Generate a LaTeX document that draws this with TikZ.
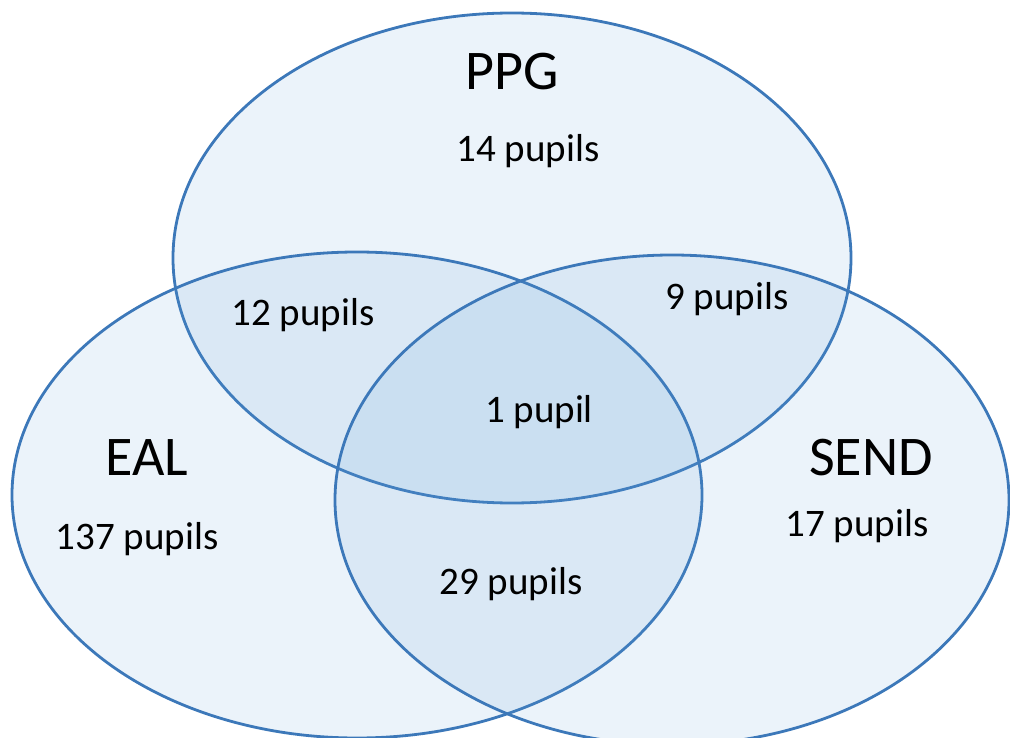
\documentclass[tikz,border=0pt]{standalone}
\usepackage{fontspec}
\setmainfont{Carlito}
\usetikzlibrary{positioning}

\definecolor{setfill}{RGB}{91,155,213}
\definecolor{setline}{RGB}{60,120,185}

\tikzset{
  set/.style={draw=setline, line width=2.8pt, fill=setfill, fill opacity=0.12},
  setname/.style={font=\fontsize{56}{62}\selectfont},
  count/.style={font=\fontsize{39}{44}\selectfont}
}

\begin{document}
\begin{tikzpicture}[x=1pt, y=-1pt]
      \useasboundingbox (0,0) rectangle (1010,738);

      \draw[set] (512,258) ellipse (339 and 245);
      \draw[set] (357,495) ellipse (345 and 243);
      \draw[set] (672,500) ellipse (337 and 245);

      \node[setname] (ppg) at (512,72) {PPG};
      \node[setname] (eal) at (147,458) {EAL};
      \node[setname] (send) at (871,458) {SEND};

      \node[count] (nppg) at (528,151) {14 pupils};
      \node[count] (neal) at (137,539) {137 pupils};
      \node[count] (nsend) at (857,526) {17 pupils};
      \node[count] (nppgeal) at (303,315) {12 pupils};
      \node[count] (nppgsend) at (727,299) {9 pupils};
      \node[count] (nealsend) at (511,584) {29 pupils};
      \node[count] (nall) at (539,412) {1 pupil};

    \end{tikzpicture}
\end{document}
